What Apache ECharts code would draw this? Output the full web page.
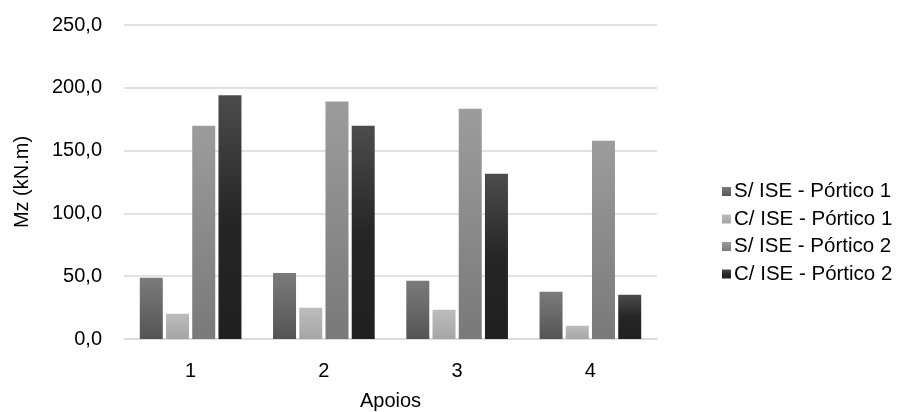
<!DOCTYPE html>
<html>
<head>
<meta charset="utf-8">
<script src="https://cdn.jsdelivr.net/npm/echarts@6/dist/echarts.min.js"></script>
<style>
html,body{margin:0;padding:0;background:#fff;}
#chart{width:900px;height:412px;}
</style>
</head>
<body>
<div id="chart"></div>
<script>
const categories = ['1', '2', '3', '4'];
const seriesNames = ['S/ ISE - Pórtico 1', 'C/ ISE - Pórtico 1', 'S/ ISE - Pórtico 2', 'C/ ISE - Pórtico 2'];
const semISE_P1 = [48.8, 52.5, 46.4, 37.7];
const comISE_P1 = [20.1, 24.9, 23.3, 10.6];
const semISE_P2 = [169.8, 189.0, 183.4, 157.9];
const comISE_P2 = [194.0, 169.8, 131.6, 35.3];
const yTicks = [0, 50, 100, 150, 200, 250];

const gradients = [
  ['#7b7b7b', '#545454'],
  ['#bdbdbd', '#a5a5a5'],
  ['#9c9c9c', '#797979'],
  ['#4c4c4c', '#202020']
];
function grad(c) {
  return new echarts.graphic.LinearGradient(0, 0, 0, 1, [
    { offset: 0, color: c[0] },
    { offset: 1, color: c[1] }
  ]);
}
function grad4(c) {
  return new echarts.graphic.LinearGradient(0, 0, 0, 1, [
    { offset: 0, color: c[0] },
    { offset: 0.5, color: '#262626' },
    { offset: 1, color: c[1] }
  ]);
}
const values = [semISE_P1, comISE_P1, semISE_P2, comISE_P2];

const chart = echarts.init(document.getElementById('chart'), null, { renderer: 'canvas' });
const font = 'Liberation Sans, Arial, sans-serif';
const fs = 20;
chart.setOption({
  animation: false,
  textStyle: { fontFamily: font },
  grid: { left: 124, right: 243, top: 25, bottom: 73, containLabel: false, outerBoundsMode: 'none' },
  legend: {
    orient: 'vertical',
    left: 717,
    top: 176,
    itemWidth: 9,
    itemHeight: 9,
    itemGap: 6.5,
    icon: 'rect',
    textStyle: { fontSize: 20.5, color: '#000', fontFamily: font, padding: [0, 0, 0, -2] },
    data: seriesNames
  },
  xAxis: {
    type: 'category',
    data: categories,
    name: 'Apoios',
    nameLocation: 'middle',
    nameGap: 52,
    nameTextStyle: { fontSize: fs, color: '#000', fontFamily: font },
    axisLine: { lineStyle: { color: '#d9d9d9', width: 1.5 } },
    axisTick: { show: false },
    axisLabel: { fontSize: fs, color: '#000', margin: 22, fontFamily: font }
  },
  yAxis: {
    type: 'value',
    min: yTicks[0],
    max: yTicks[yTicks.length - 1],
    interval: 50,
    name: 'Mz (kN.m)',
    nameLocation: 'middle',
    nameGap: 92,
    nameRotate: 90,
    nameTextStyle: { fontSize: fs, color: '#000', fontFamily: font },
    axisLine: { show: false },
    axisTick: { show: false },
    axisLabel: {
      fontSize: fs, color: '#000', margin: 22, fontFamily: font,
      formatter: v => v.toFixed(1).replace('.', ',')
    },
    splitLine: { lineStyle: { color: '#d9d9d9', width: 1.5 } }
  },
  series: values.map((v, i) => ({
    name: seriesNames[i],
    type: 'bar',
    data: v,
    barWidth: 23,
    barGap: '14%',
    itemStyle: { color: i === 3 ? grad4(gradients[i]) : grad(gradients[i]) }
  }))
});
</script>
</body>
</html>
